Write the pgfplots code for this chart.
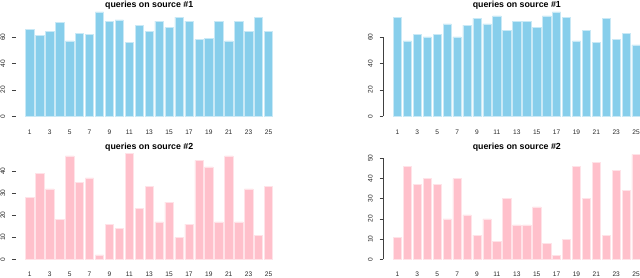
\documentclass[border=0pt]{standalone}
\usepackage{pgfplots}
\pgfplotsset{compat=1.18}
\usepackage{fontspec}
\setmainfont{Liberation Sans}
\definecolor{skyb}{HTML}{87CEEB}
\definecolor{pnk}{HTML}{FFC0CB}
\pgfplotsset{
  panel/.style={
    scale only axis, anchor=south west,
    xmin=-0.42, xmax=26.42, width=266.95pt,
    ymin=0, clip=false,
    axis line style={draw=none},
    xtick={1,3,...,25}, xtick style={draw=none},
    xticklabel style={font=\fontsize{6.6}{7}\selectfont, text=black!85, anchor=center},
    ytick pos=left, tick align=outside, major tick length=3.8pt,
    ytick style={black!75, line width=0.5pt},
    yticklabel style={font=\fontsize{6.6}{7}\selectfont, text=black!85, rotate=90, anchor=south},
    yticklabel shift=3.3pt,
    /pgf/number format/assume math mode=true,
    ybar, bar width=8.29pt, bar shift=0pt,
  },
  bluebar/.style={fill=skyb, draw=skyb!45!white, line width=0.5pt},
  pinkbar/.style={fill=pnk, draw=pnk!45!white, line width=0.5pt},
}
\begin{document}
\begin{tikzpicture}
\path[use as bounding box] (0pt,0pt) rectangle (640pt,277pt);
% top-left
\begin{axis}[panel, at={(15.7pt,160.7pt)}, ymax=80, height=105.74pt,
  ytick={0,20,40,60}, xticklabel style={yshift=-12pt}]
\addplot[bluebar] coordinates {(1,66) (2,61) (3,64) (4,71) (5,57) (6,63) (7,62) (8,79) (9,72) (10,73) (11,56) (12,69) (13,64) (14,72) (15,67) (16,75) (17,72) (18,58) (19,59) (20,72) (21,57) (22,72) (23,64) (24,75) (25,64)};
\end{axis}
% top-right
\begin{axis}[panel, at={(383.3pt,160.7pt)}, ymax=80, height=105.74pt,
  ytick={0,20,40,60}, xticklabel style={yshift=-12pt}]
\addplot[bluebar] coordinates {(1,75) (2,57) (3,62) (4,60) (5,62) (6,70) (7,60) (8,69) (9,74) (10,70) (11,76) (12,65) (13,72) (14,72) (15,67) (16,76) (17,79) (18,75) (19,57) (20,65) (21,56) (22,74) (23,58) (24,63) (25,54)};
\draw[black!75, line width=0.5pt] (axis cs:-0.42,0) -- (axis cs:-0.42,60);
\end{axis}
% bottom-left
\begin{axis}[panel, at={(15.7pt,17.7pt)}, ymax=50, height=110pt,
  ytick={0,10,20,30,40}, xticklabel style={yshift=-10.7pt}]
\addplot[pinkbar] coordinates {(1,28) (2,39) (3,32) (4,18) (5,47) (6,35) (7,37) (8,2) (9,16) (10,14) (11,48) (12,23) (13,33) (14,17) (15,26) (16,10) (17,16) (18,45) (19,42) (20,17) (21,47) (22,17) (23,32) (24,11) (25,33)};
\end{axis}
% bottom-right
\begin{axis}[panel, at={(383.3pt,17.7pt)}, ymax=55, height=111.1pt,
  ytick={0,10,20,30,40,50}, xticklabel style={yshift=-10.7pt}]
\addplot[pinkbar] coordinates {(1,11) (2,46) (3,37) (4,40) (5,37) (6,20) (7,40) (8,22) (9,12) (10,20) (11,9) (12,30) (13,17) (14,17) (15,26) (16,8) (17,2) (18,10) (19,46) (20,30) (21,48) (22,12) (23,44) (24,34) (25,52)};
\draw[black!75, line width=0.5pt] (axis cs:-0.42,0) -- (axis cs:-0.42,50);
\end{axis}
\node[anchor=base, font=\bfseries\fontsize{8.8}{10}\selectfont] at (149.2pt,269.9pt) {queries on source \#1};
\node[anchor=base, font=\bfseries\fontsize{8.8}{10}\selectfont] at (516.8pt,269.9pt) {queries on source \#1};
\node[anchor=base, font=\bfseries\fontsize{8.8}{10}\selectfont] at (149.2pt,128pt) {queries on source \#2};
\node[anchor=base, font=\bfseries\fontsize{8.8}{10}\selectfont] at (516.8pt,128pt) {queries on source \#2};
\end{tikzpicture}
\end{document}
